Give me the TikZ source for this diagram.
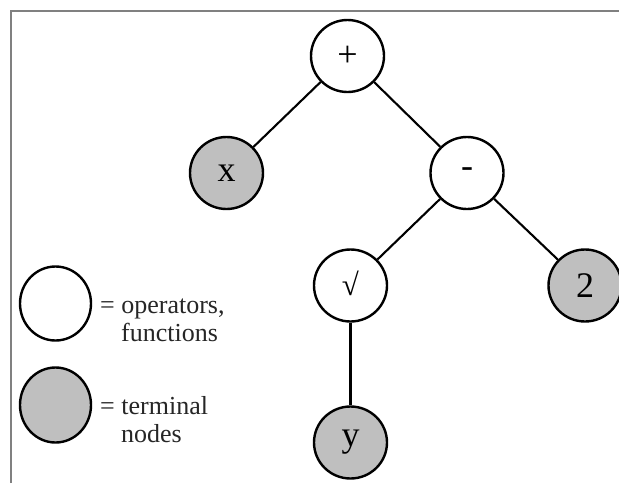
\documentclass[tikz,border=0pt]{standalone}
\usepackage{fontspec}
\setmainfont{Liberation Serif}
\usetikzlibrary{shapes.geometric}
\begin{document}
\begin{tikzpicture}[x=1pt,y=-1pt,
  opnode/.style={ellipse,draw=black,line width=2.4pt,fill=white,minimum width=73pt,minimum height=72pt,inner sep=0pt,font=\fontsize{36}{36}\selectfont},
  termnode/.style={opnode,fill=gray!50},
  edge/.style={line width=2.1pt,black},
  legtext/.style={anchor=base west,inner sep=0pt,font=\fontsize{26}{26}\selectfont,text=black!85}]
\useasboundingbox (0,0) rectangle (619,483);
\fill[white] (0,0) rectangle (619,483);
\coordinate (bl) at (11,483);
\coordinate (tl) at (11,11);
\coordinate (tr) at (619,11);
\draw[line width=1.6pt,gray] (bl) -- (tl) -- (tr);
\node[opnode] (plus) at (347.5,56) {+};
\node[termnode] (x) at (226.5,173) {x};
\node[opnode] (minus) at (467,173) {-};
\node[opnode] (sqrt) at (350.5,285.5) {\fontsize{31}{31}\selectfont\raisebox{5pt}{√}};
\node[termnode] (two) at (585,285.5) {2};
\node[termnode] (y) at (350.5,442.5) {y};
\draw[edge] (plus) -- (x);
\draw[edge] (plus) -- (minus);
\draw[edge] (minus) -- (sqrt);
\draw[edge] (minus) -- (two);
\draw[edge] (sqrt) -- (y);
\node[opnode,minimum width=71pt,minimum height=74pt] (legop) at (55.5,303.5) {};
\node[termnode,minimum width=71pt,minimum height=75pt] (legterm) at (55.5,405) {};
\node[legtext] (t1) at (100,313) {= operators,};
\node[legtext] (t2) at (121,341.5) {functions};
\node[legtext] (t3) at (100,414.5) {= terminal};
\node[legtext] (t4) at (121,442.5) {nodes};
\end{tikzpicture}
\end{document}
